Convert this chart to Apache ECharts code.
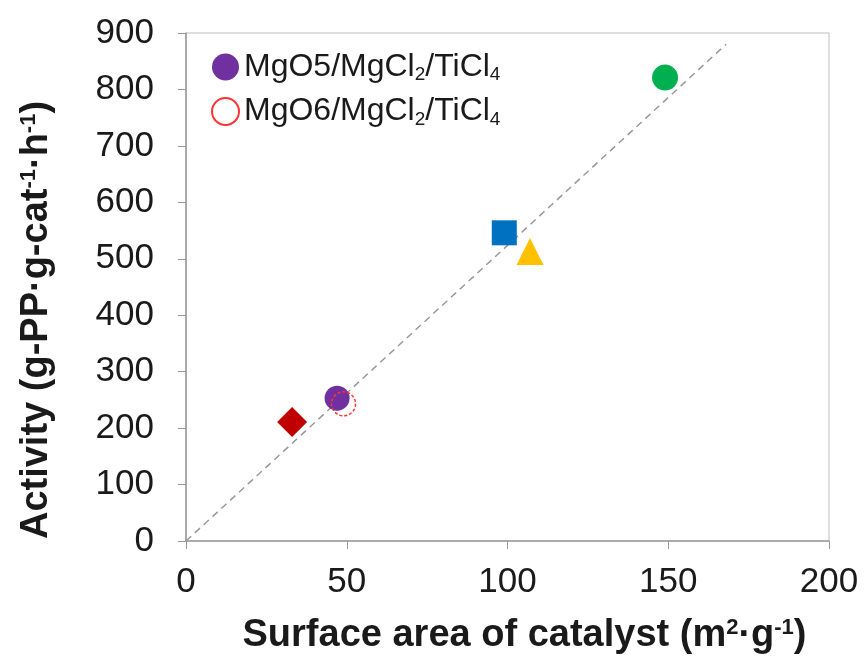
<!DOCTYPE html>
<html>
<head>
<meta charset="utf-8">
<script src="https://cdn.jsdelivr.net/npm/echarts@6/dist/echarts.min.js"></script>
<style>
html, body { margin: 0; padding: 0; background: #fff; }
#chart { width: 867px; height: 661px; }
</style>
</head>
<body>
<div id="chart"></div>
<script>
// values
const seriesNames = ["MgO5/MgCl2/TiCl4", "MgO6/MgCl2/TiCl4", "diamond", "square", "triangle", "green"];
const surfaceArea = [47, 49, 33, 99, 107, 149];
const activity = [253, 243, 211, 546, 513, 821];
const fitX = [0, 168];
const fitY = [0, 880];
const xTicks = [0, 50, 100, 150, 200];
const yTicks = [0, 100, 200, 300, 400, 500, 600, 700, 800, 900];

const font = "Liberation Sans, Arial, Helvetica, sans-serif";
const textColor = "#1a1a1a";

const markers = [
    { symbol: "circle", size: 25, style: { color: "#7030A0", opacity: 1 } },
    { symbol: "circle", size: 24, style: { color: "rgba(255,255,255,0)", borderColor: "#FF3333", borderWidth: 1.5, borderType: [3, 2], opacity: 1 } },
    { symbol: "diamond", size: 30, style: { color: "#C00000", opacity: 1 } },
    { symbol: "rect", size: 25, style: { color: "#0070C0", opacity: 1 } },
    { symbol: "triangle", size: 27, style: { color: "#FFC000", opacity: 1 } },
    { symbol: "circle", size: 26, style: { color: "#00B050", opacity: 1 } }
];

var chart = echarts.init(document.getElementById("chart"));

const pointSeries = surfaceArea.map((x, i) => ({
    name: seriesNames[i],
    type: "scatter",
    data: [[x, activity[i]]],
    symbol: markers[i].symbol,
    symbolSize: markers[i].size,
    itemStyle: markers[i].style,
    z: 3
}));

const nameRich = {
    b: { fontFamily: font, fontSize: 38, fontWeight: "bold", color: textColor },
    sup: { fontFamily: font, fontSize: 22, fontWeight: "bold", color: textColor, padding: [0, 0, 16, 0] }
};

chart.setOption({
    backgroundColor: "#fff",
    animation: false,
    grid: {
        left: 186,
        right: 38,
        top: 33,
        bottom: 120,
        show: true,
        borderColor: "#bdbdbd",
        borderWidth: 1
    },
    legend: {
        data: [seriesNames[0], seriesNames[1]],
        orient: "vertical",
        left: 206,
        top: 46,
        itemWidth: 27,
        itemHeight: 27,
        itemGap: 11,
        textStyle: {
            fontFamily: font,
            fontSize: 32,
            color: textColor,
            rich: {
                n: { fontFamily: font, fontSize: 32, color: textColor },
                s: { fontFamily: font, fontSize: 19, color: textColor, padding: [16, 0, 0, 0] }
            }
        },
        formatter: name => {
            const parts = name.match(/^(MgO\d\/MgCl)2(\/TiCl)4$/);
            return "{n|" + parts[1] + "}{s|2}{n|" + parts[2] + "}{s|4}";
        }
    },
    xAxis: {
        type: "value",
        min: xTicks[0],
        max: xTicks[xTicks.length - 1],
        interval: 50,
        name: "{b|Surface area of catalyst (m}{sup|2}{b|·g}{sup|-1}{b|)}",
        nameLocation: "middle",
        nameGap: 76,
        nameTextStyle: { padding: [0, 0, 0, 34], rich: nameRich },
        axisLine: { lineStyle: { color: "#999", width: 1.5 } },
        axisTick: { inside: false, length: 8, lineStyle: { color: "#999" } },
        axisLabel: { fontFamily: font, fontSize: 35, color: textColor, margin: 24 },
        splitLine: { show: false }
    },
    yAxis: {
        type: "value",
        min: yTicks[0],
        max: yTicks[yTicks.length - 1],
        interval: 100,
        name: "{b|Activity (g-PP·g-cat}{sup|-1}{b|·h}{sup|-1}{b|)}",
        nameLocation: "middle",
        nameGap: 130,
        nameRotate: 90,
        nameTextStyle: { padding: [0, 66, 0, 0], rich: nameRich },
        axisLine: { lineStyle: { color: "#999", width: 1.5 } },
        axisTick: { inside: false, length: 8, lineStyle: { color: "#999" } },
        axisLabel: { fontFamily: font, fontSize: 35, color: textColor, margin: 32 },
        splitLine: { show: false }
    },
    series: [
        {
            name: "fit",
            type: "line",
            data: fitX.map((x, i) => [x, fitY[i]]),
            symbol: "none",
            lineStyle: { color: "#999", width: 1.5, type: [7, 5] },
            z: 2
        },
        ...pointSeries
    ]
});
</script>
</body>
</html>
